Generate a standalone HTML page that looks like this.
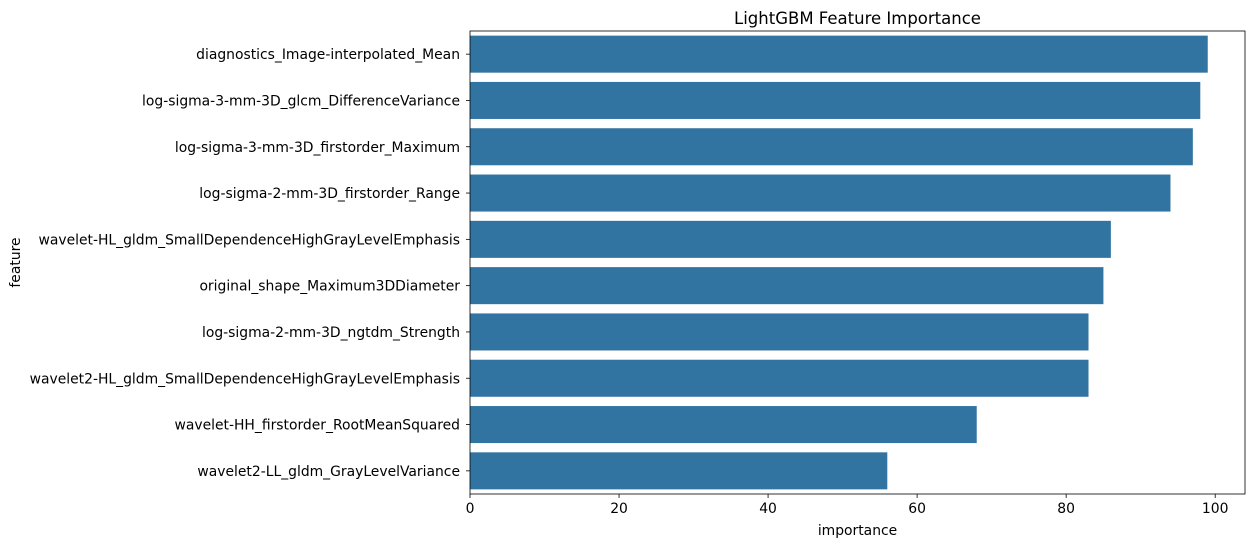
<!DOCTYPE html>
<html><head><meta charset="utf-8"><style>
body{margin:0;background:#fff;font-family:"Liberation Sans","DejaVu Sans",sans-serif;}
svg text{font-family:"DejaVu Sans","Liberation Sans",sans-serif;font-size:13.9px;fill:#000}
</style></head><body>
<svg id="chart" width="1254" height="547"></svg>
<script>
const features=["diagnostics_Image-interpolated_Mean","log-sigma-3-mm-3D_glcm_DifferenceVariance","log-sigma-3-mm-3D_firstorder_Maximum","log-sigma-2-mm-3D_firstorder_Range","wavelet-HL_gldm_SmallDependenceHighGrayLevelEmphasis","original_shape_Maximum3DDiameter","log-sigma-2-mm-3D_ngtdm_Strength","wavelet2-HL_gldm_SmallDependenceHighGrayLevelEmphasis","wavelet-HH_firstorder_RootMeanSquared","wavelet2-LL_gldm_GrayLevelVariance"];
const importance=[99,98,97,94,86,85,83,83,68,56];
const xTicks=[0,20,40,60,80,100];
const svg=document.getElementById('chart');
const NS='http://www.w3.org/2000/svg';
const L=470,R=1245,T=31,B=494,XMAX=104;
const x=v=>L+(v/XMAX)*(R-L);
const band=(B-T)/features.length;
function el(t,a,txt){const e=document.createElementNS(NS,t);for(const k in a)e.setAttribute(k,a[k]);if(txt!==undefined)e.textContent=txt;svg.appendChild(e);return e;}
features.forEach((f,i)=>{
  const cy=T+band*(i+0.5);
  const b=el('rect',{x:L,y:cy-band*0.4,width:x(importance[i])-L,height:band*0.8,fill:'#3274a1'});
  
  
  el('line',{x1:L-4,x2:L,y1:cy,y2:cy,stroke:'#000','stroke-width':0.8});
  const t=el('text',{x:L-10,y:cy+5,'text-anchor':'end'},f);
  
  
});
xTicks.forEach(v=>{
  el('line',{x1:x(v),x2:x(v),y1:B,y2:B+4,stroke:'#000','stroke-width':0.8});
  const t=el('text',{x:x(v),y:B+19,'text-anchor':'middle'},v);
  
  
});
const f=el('rect',{x:L,y:T,width:R-L,height:B-T,fill:'none',stroke:'#000','stroke-width':0.8});


const tt=el('text',{x:(L+R)/2,y:T-7,'text-anchor':'middle'},'LightGBM Feature Importance');


tt.style.fontSize='16.5px';
const xl=el('text',{x:(L+R)/2,y:535,'text-anchor':'middle'},'importance');


const yl=el('text',{x:20,y:(T+B)/2,'text-anchor':'middle',transform:`rotate(-90 20 ${(T+B)/2})`},'feature');


</script>
</body></html>
